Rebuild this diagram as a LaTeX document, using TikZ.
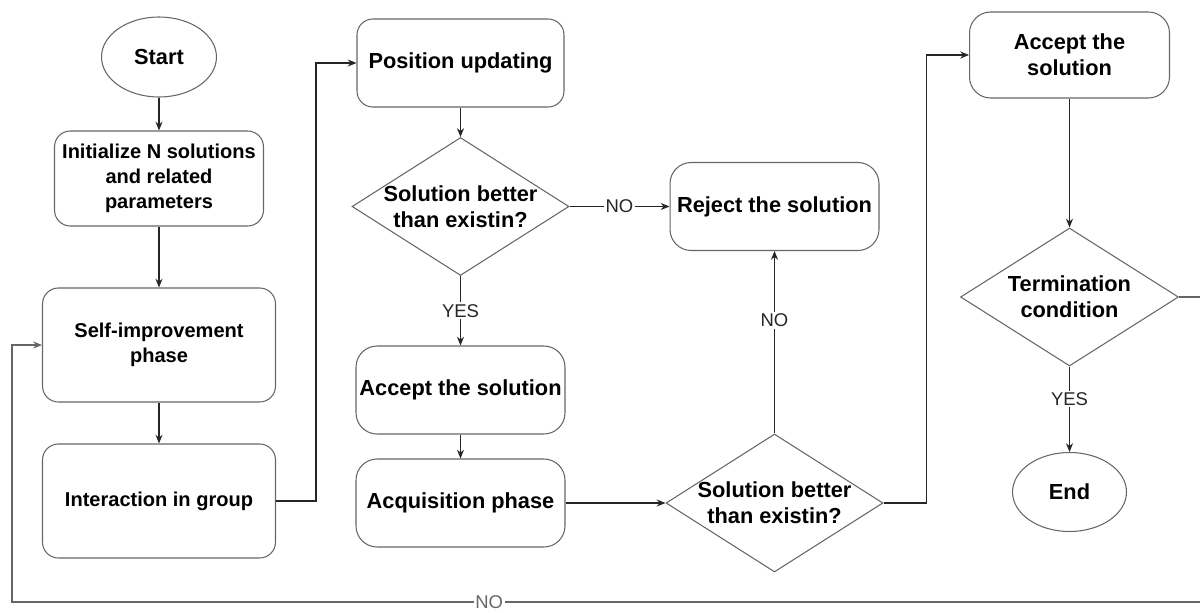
\documentclass[tikz,border=0pt]{standalone}
\usepackage{fontspec}
\setmainfont{Liberation Sans}
\usetikzlibrary{shapes.geometric, arrows.meta, positioning}

\begin{document}
\begin{tikzpicture}[x=0.02cm, y=-0.02cm,
  boldtxt/.style={font=\fontsize{12.4}{14.8}\selectfont\bfseries},
  smalltxt/.style={font=\fontsize{11.4}{14.2}\selectfont\bfseries},
  terminal/.style={draw=black!60, line width=0.6pt, ellipse, minimum width=2.3cm, minimum height=1.6cm, boldtxt},
  process/.style={draw=black!60, line width=0.6pt, rounded corners=9pt, align=center, inner sep=0pt, boldtxt},
  decision/.style={draw=black!60, line width=0.6pt, diamond, minimum width=4.34cm, minimum height=2.76cm, inner sep=0pt},
  flow/.style={-{Stealth[length=5pt,width=4pt]}, black!85, line width=0.6pt},
  tag/.style={fill=white, inner sep=1pt, font=\fontsize{10.5}{12}\selectfont}]
  \useasboundingbox (0,0) rectangle (1200,612);
  \node[terminal] (start) at (159,57) {Start};
  \node[process, smalltxt, minimum width=4.18cm, minimum height=1.9cm] (init) at (159,178.5) {Initialize N solutions\\and related\\parameters};
  \node[process, smalltxt, minimum width=4.66cm, minimum height=2.28cm] (self) at (159,345) {Self-improvement\\phase};
  \node[process, smalltxt, minimum width=4.66cm, minimum height=2.28cm] (inter) at (159,501) {Interaction in group};
  \node[process, minimum width=4.14cm, minimum height=1.76cm] (pos) at (460.5,63) {Position updating};
  \node[decision, label={[boldtxt, align=center]center:{Solution better\\than existin?}}] (dec1) at (460.5,206.5) {};
  \node[process, rounded corners=12pt, minimum width=4.18cm, minimum height=1.76cm] (acc1) at (460.5,390) {Accept the solution};
  \node[process, rounded corners=12pt, minimum width=4.18cm, minimum height=1.76cm] (acq) at (460.5,503) {Acquisition phase};
  \node[decision, label={[boldtxt, align=center]center:{Solution better\\than existin?}}] (dec2) at (774.5,503) {};
  \node[process, rounded corners=12pt, minimum width=4.18cm, minimum height=1.76cm] (rej) at (774.5,206.5) {Reject the solution};
  \node[process, rounded corners=12pt, minimum width=4.0cm, minimum height=1.72cm] (acc2) at (1069.5,55) {Accept the\\solution};
  \node[decision, minimum width=4.36cm, label={[boldtxt, align=center]center:{Termination\\condition}}] (term) at (1069.5,297) {};
  \node[terminal, minimum width=2.28cm, minimum height=1.58cm] (end) at (1069.5,492) {End};
  \coordinate (loopR) at (1205,602);
  \coordinate (loopL) at (12,602);
  \draw[flow] (start) -- (init);
  \draw[flow] (init) -- (self);
  \draw[flow] (self) -- (inter);
  \draw[flow] (inter.east) -- ++(40,0) |- (pos.west);
  \draw[flow] (pos) -- (dec1);
  \draw[flow] (dec1.east) -- node[tag]{NO} (rej.west);
  \draw[flow] (dec1) -- node[tag]{YES} (acc1);
  \draw[flow] (acc1) -- (acq);
  \draw[flow] (acq) -- (dec2);
  \draw[flow] (dec2) -- node[tag, pos=0.62]{NO} (rej);
  \draw[flow] (dec2.east) -- ++(43,0) |- (acc2.west);
  \draw[flow] (acc2) -- (term);
  \draw[flow] (term) -- node[tag, pos=0.38]{YES} (end);
  \draw[flow, black!60, line width=0.8pt] (term.east) -| (loopR) -- node[tag, pos=0.6]{NO} (loopL) |- (self.west);
\end{tikzpicture}
\end{document}
